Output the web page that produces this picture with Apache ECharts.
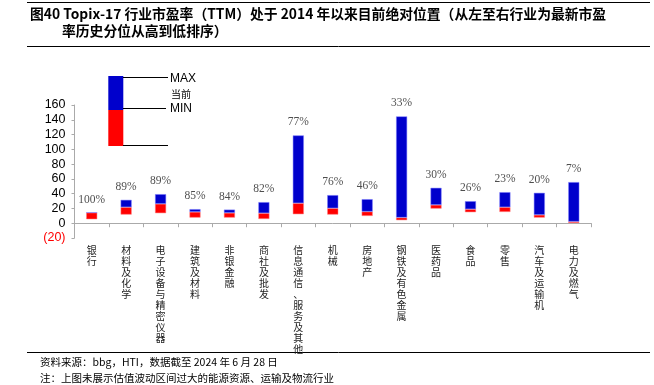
<!DOCTYPE html>
<html><head><meta charset="utf-8">
<script src="https://cdn.jsdelivr.net/npm/echarts@6/dist/echarts.min.js"></script>
<style>html,body{margin:0;padding:0;background:#fff}#c{width:654px;height:385px}</style>
</head><body><div id="c"></div>
<script>
const categories = ['银行','材料及化学','电子设备与精密仪器','建筑及材料','非银金融','商社及批发','信息通信、服务及其他','机械','房地产','钢铁及有色金属','医药品','食品','零售','汽车及运输机','电力及燃气'];
const minVals = [5.4, 11.7, 13.6, 7.6, 7.6, 5.8, 12.2, 11.7, 9.9, 4.1, 19.8, 14.9, 15.3, 7.6, 0.4];
const curVals = [14.4, 21.7, 26.2, 15.3, 14.0, 13.6, 27.1, 20.3, 15.7, 7.6, 24.8, 19.0, 21.7, 11.3, 2.2];
const maxVals = [14.4, 31.6, 39.3, 19.0, 18.4, 28.5, 118.8, 38.0, 32.5, 144.6, 47.9, 29.8, 42.0, 41.1, 55.6];
const pctLabels = ['100%','89%','89%','85%','84%','82%','77%','76%','46%','33%','30%','26%','23%','20%','7%'];
const yTicks = {min: -20, max: 160, interval: 20};

const redPart = curVals.map((c, i) => +(c - minVals[i]).toFixed(2));
const bluePart = maxVals.map((m, i) => +(m - curVals[i]).toFixed(2));

const chart = echarts.init(document.getElementById('c'), null, {renderer: 'canvas'});
const cjk = '"Noto Sans CJK SC", sans-serif';
chart.setOption({
  animation: false,
  grid: {left: 74.5, right: 63, top: 105, bottom: 147, containLabel: false},
  xAxis: {
    type: 'category', data: categories,
    axisLine: {onZero: true, lineStyle: {color: '#aaa', width: 1}},
    axisTick: {show: true, length: 4, lineStyle: {color: '#aaa'}},
    axisLabel: {
      interval: 0, margin: 7, color: '#222', fontSize: 10, lineHeight: 11,
      fontFamily: cjk,
      formatter: v => v.split('').join('\n'),
      verticalAlign: 'top'
    }
  },
  yAxis: {
    type: 'value', min: yTicks.min, max: yTicks.max, interval: yTicks.interval,
    splitLine: {show: false},
    axisLine: {show: true, lineStyle: {color: '#aaa'}},
    axisTick: {show: true, length: 3, lineStyle: {color: '#aaa'}},
    axisLabel: {
      margin: 9, fontSize: 12.5, color: '#000', fontFamily: '"Liberation Sans", Arial, sans-serif',
      formatter: v => v < 0 ? '{r|(' + Math.abs(v) + ')}' : String(v),
      rich: {r: {color: '#ff0000', fontSize: 12.5, fontFamily: '"Liberation Sans", Arial, sans-serif'}}
    }
  },
  series: [
    {type: 'bar', stack: 's', data: minVals, barWidth: 11, itemStyle: {color: 'transparent'}, silent: true},
    {type: 'bar', stack: 's', data: redPart, barWidth: 11, itemStyle: {color: '#ff0000', borderColor: '#ff8080', borderWidth: 0.5}},
    {type: 'bar', stack: 's', data: bluePart, barWidth: 11, itemStyle: {color: '#0000cc', borderColor: '#8080ff', borderWidth: 0.5}},
    {type: 'scatter', data: maxVals, symbolSize: 0, silent: true,
     label: {show: true, position: 'top', distance: 7, color: '#222', fontSize: 11.5,
       fontFamily: '"Liberation Serif", "DejaVu Serif", serif',
       formatter: p => pctLabels[p.dataIndex]}}
  ],
  graphic: [
    {type: 'line', shape: {x1: 27, y1: 2.5, x2: 650, y2: 2.5}, style: {stroke: '#000', lineWidth: 1}},
    {type: 'text', left: 30, top: 7, style: {text: '图40 Topix-17 行业市盈率（TTM）处于 2014 年以来目前绝对位置（从左至右行业为最新市盈', fill: '#000', font: 'bold 13.8px ' + cjk}},
    {type: 'text', left: 62, top: 24, style: {text: '率历史分位从高到低排序）', fill: '#000', font: 'bold 13.8px ' + cjk}},
    {type: 'line', shape: {x1: 27, y1: 46.5, x2: 650, y2: 46.5}, style: {stroke: '#000', lineWidth: 1}},
    {type: 'rect', shape: {x: 108.3, y: 76, width: 15, height: 34}, style: {fill: '#0000cc'}},
    {type: 'rect', shape: {x: 108.3, y: 110, width: 15, height: 36}, style: {fill: '#ff0000'}},
    {type: 'line', shape: {x1: 123, y1: 77.5, x2: 168, y2: 77.5}, style: {stroke: '#000', lineWidth: 1}},
    {type: 'line', shape: {x1: 123, y1: 108.5, x2: 166, y2: 108.5}, style: {stroke: '#000', lineWidth: 1}},
    {type: 'line', shape: {x1: 123, y1: 145.5, x2: 168, y2: 145.5}, style: {stroke: '#000', lineWidth: 1}},
    {type: 'text', x: 170, y: 79, style: {text: 'MAX', fill: '#000', font: '12px "Liberation Sans", Arial, sans-serif', verticalAlign: 'middle'}},
    {type: 'text', x: 171, y: 94, style: {text: '当前', fill: '#000', font: '10px ' + cjk, verticalAlign: 'middle'}},
    {type: 'text', x: 170, y: 108.5, style: {text: 'MIN', fill: '#000', font: '12px "Liberation Sans", Arial, sans-serif', verticalAlign: 'middle'}},
    {type: 'line', shape: {x1: 27, y1: 352.5, x2: 650, y2: 352.5}, style: {stroke: '#000', lineWidth: 1}},
    {type: 'text', x: 40, y: 362, style: {text: '资料来源：bbg，HTI，数据截至 2024 年 6 月 28 日', fill: '#000', font: '10.5px ' + cjk, verticalAlign: 'middle'}},
    {type: 'text', x: 40, y: 378, style: {text: '注：上图未展示估值波动区间过大的能源资源、运输及物流行业', fill: '#000', font: '10.5px ' + cjk, verticalAlign: 'middle'}}
  ]
});
</script></body></html>
